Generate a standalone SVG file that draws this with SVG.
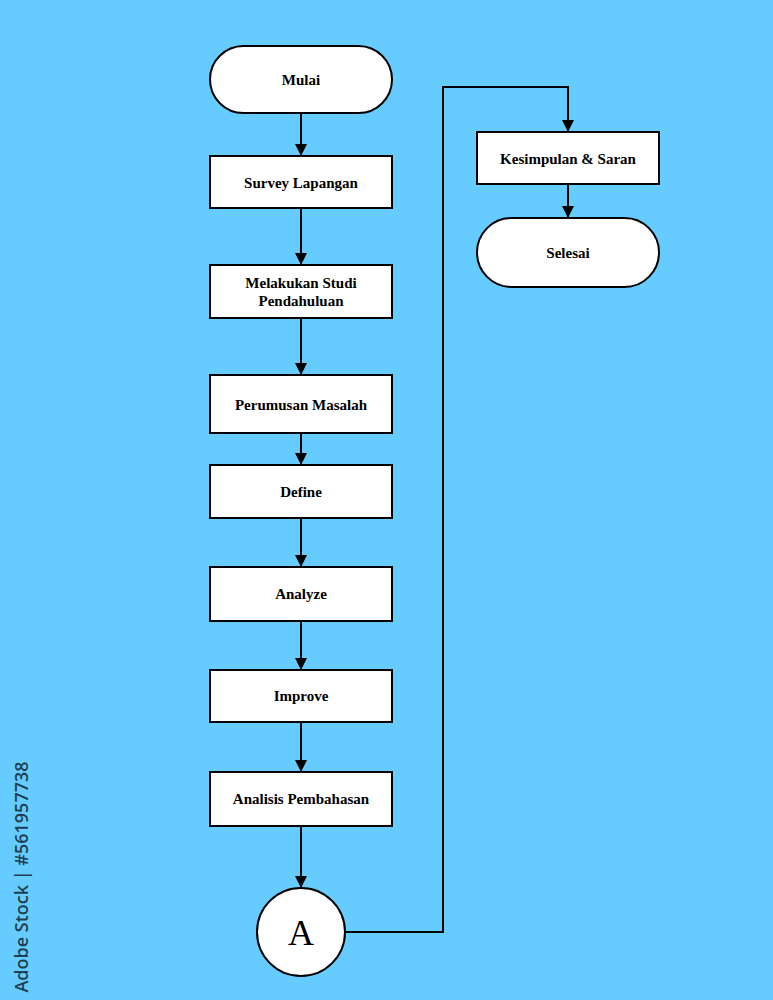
<svg xmlns="http://www.w3.org/2000/svg" width="773" height="1000" viewBox="0 0 773 1000">
<style>
.box{fill:#fff;stroke:#000;stroke-width:2}
.lbl{font-family:"Liberation Serif",serif;font-weight:bold;font-size:15px;fill:#000;text-anchor:middle}
.ln{fill:none;stroke:#000;stroke-width:2}
</style>
<defs>
<marker id="ah" markerWidth="12" markerHeight="12" refX="11" refY="6" orient="auto" markerUnits="userSpaceOnUse">
<path d="M0,0 L12,6 L0,12 Z" fill="#000"/>
</marker>
</defs>
<rect width="773" height="1000" fill="#66CCFF"/>
<g id="connectors">
<path class="ln" d="M301,113 V155" marker-end="url(#ah)"/>
<path class="ln" d="M301,208 V264" marker-end="url(#ah)"/>
<path class="ln" d="M301,318 V374" marker-end="url(#ah)"/>
<path class="ln" d="M301,433 V464" marker-end="url(#ah)"/>
<path class="ln" d="M301,518 V566" marker-end="url(#ah)"/>
<path class="ln" d="M301,621 V669" marker-end="url(#ah)"/>
<path class="ln" d="M301,722 V771" marker-end="url(#ah)"/>
<path class="ln" d="M301,826 V887" marker-end="url(#ah)"/>
<path class="ln" d="M345,932 H443 V87 H568 V131" marker-end="url(#ah)"/>
<path class="ln" d="M568,184 V217" marker-end="url(#ah)"/>
</g>
<g id="mulai"><rect class="box" x="210" y="46" width="182" height="67" rx="33.5"/><text class="lbl" x="301" y="85">Mulai</text></g>
<g id="survey"><rect class="box" x="210" y="156" width="182" height="52"/><text class="lbl" x="301" y="188">Survey Lapangan</text></g>
<g id="studi"><rect class="box" x="210" y="265" width="182" height="53"/><text class="lbl" x="301" y="288">Melakukan Studi</text><text class="lbl" x="301" y="306">Pendahuluan</text></g>
<g id="perumusan"><rect class="box" x="210" y="375" width="182" height="58"/><text class="lbl" x="301" y="410">Perumusan Masalah</text></g>
<g id="define"><rect class="box" x="210" y="465" width="182" height="53"/><text class="lbl" x="301" y="497">Define</text></g>
<g id="analyze"><rect class="box" x="210" y="567" width="182" height="54"/><text class="lbl" x="301" y="599">Analyze</text></g>
<g id="improve"><rect class="box" x="210" y="670" width="182" height="52"/><text class="lbl" x="301" y="701">Improve</text></g>
<g id="analisis"><rect class="box" x="210" y="772" width="182" height="54"/><text class="lbl" x="301" y="804">Analisis Pembahasan</text></g>
<g id="a"><circle class="box" cx="301" cy="932" r="44"/><text x="301" y="945" font-family="Liberation Serif,serif" font-size="36" text-anchor="middle" fill="#000">A</text></g>
<g id="kesimpulan"><rect class="box" x="477" y="132" width="182" height="52"/><text class="lbl" x="568" y="164">Kesimpulan &amp; Saran</text></g>
<g id="selesai"><rect class="box" x="477" y="218" width="182" height="69" rx="34.5"/><text class="lbl" x="568" y="258">Selesai</text></g>
<text x="28" y="877" transform="rotate(-90 28 877)" font-family="Open Sans,sans-serif" font-weight="600" font-size="18" fill="#1f3f50" text-anchor="middle">Adobe Stock | #561957738</text>
</svg>
